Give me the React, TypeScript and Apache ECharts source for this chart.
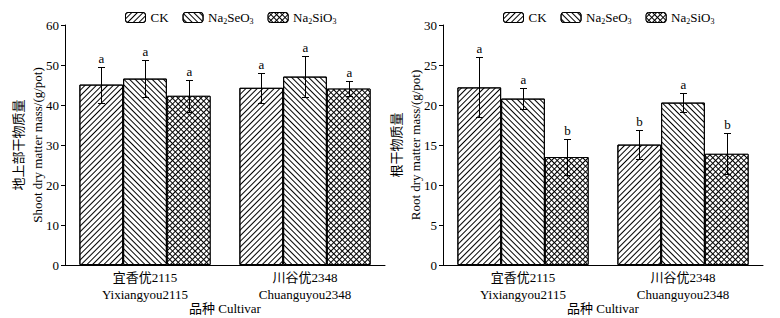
import React, { useEffect, useRef } from "react";
import * as echarts from "echarts";

const categories = ["宜香优2115\nYixiangyou2115", "川谷优2348\nChuanguyou2348"];
const treatments = ["CK", "Na2SeO3", "Na2SiO3"];

// Shoot dry matter mass (g/pot)
const shootCK = [45.1, 44.3];
const shootSe = [46.6, 47.1];
const shootSi = [42.3, 44.1];
const shootCKErr = [4.5, 3.8];
const shootSeErr = [4.7, 5.2];
const shootSiErr = [4.0, 1.8];
const shootLetters = [["a", "a"], ["a", "a"], ["a", "a"]];

// Root dry matter mass (g/pot)
const rootCK = [22.2, 15.05];
const rootSe = [20.8, 20.3];
const rootSi = [13.5, 13.9];
const rootCKErr = [3.75, 1.8];
const rootSeErr = [1.3, 1.15];
const rootSiErr = [2.2, 2.55];
const rootLetters = [["a", "b"], ["a", "a"], ["b", "b"]];

const FONT = "'Liberation Serif', 'Times New Roman', 'Noto Sans CJK SC', serif";

const decals: any[] = [
  { symbol: "rect", symbolSize: 1, color: "#000", dashArrayX: [1, 0], dashArrayY: [1, 3], rotation: -Math.PI / 4 },
  { symbol: "rect", symbolSize: 1, color: "#000", dashArrayX: [1, 0], dashArrayY: [1, 3], rotation: Math.PI / 4 },
  { symbol: "rect", symbolSize: 1, color: "#fff", dashArrayX: [3, 1], dashArrayY: [3, 1], rotation: Math.PI / 4 },
];
const fills = ["#fff", "#fff", "#000"];

function barSeries(name: string, k: number, data: number[], axis: number) {
  return {
    type: "bar",
    name,
    xAxisIndex: axis,
    yAxisIndex: axis,
    data,
    barGap: "0%",
    barCategoryGap: "18%",
    itemStyle: { color: fills[k], borderColor: "#000", borderWidth: 1, decal: decals[k] },
    z: 2,
  };
}

function errSeries(vals: number[][], errs: number[][], letters: string[][], axis: number) {
  const data: number[][] = [];
  for (let k = 0; k < 3; k++) {
    for (let c = 0; c < vals[k].length; c++) {
      data.push([c, vals[k][c], errs[k][c], k]);
    }
  }
  return {
    type: "custom",
    xAxisIndex: axis,
    yAxisIndex: axis,
    z: 5,
    data,
    renderItem: (params: any, api: any) => {
      const ci = api.value(0);
      const v = api.value(1);
      const e = api.value(2);
      const k = api.value(3);
      const band = api.size([1, 0])[0];
      const bw = (band * 0.82) / 3;
      const c = api.coord([ci, v]);
      const x = Math.round(c[0] + (k - 1) * bw) + 0.5;
      const top = Math.round(api.coord([ci, v + e])[1]) + 0.5;
      const bot = Math.round(api.coord([ci, v - e])[1]) + 0.5;
      const half = 3.5;
      const st = { stroke: "#000", lineWidth: 1 };
      return {
        type: "group",
        children: [
          { type: "line", shape: { x1: x, y1: top, x2: x, y2: bot }, style: st },
          { type: "line", shape: { x1: x - half, y1: top, x2: x + half, y2: top }, style: st },
          { type: "line", shape: { x1: x - half, y1: bot, x2: x + half, y2: bot }, style: st },
          {
            type: "text",
            style: {
              text: letters[k][ci],
              x: x,
              y: top - 2,
              align: "center",
              verticalAlign: "bottom",
              fontSize: 13,
              fontFamily: FONT,
              fill: "#000",
            },
          },
        ],
      };
    },
  };
}

const legendRich = {
  n: { fontSize: 13, fontFamily: FONT, color: "#000", lineHeight: 16 },
  s: { fontSize: 8, fontFamily: FONT, color: "#000", lineHeight: 7, verticalAlign: "bottom" },
};
function legendFmt(name: string) {
  if (name === "CK") return "{n|CK}";
  if (name === "Na2SeO3") return "{n|Na}{s|2}{n|SeO}{s|3}";
  return "{n|Na}{s|2}{n|SiO}{s|3}";
}

function makeLegend(left: number) {
  return {
    data: treatments,
    left,
    top: 11,
    padding: 0,
    itemWidth: 20,
    itemHeight: 10,
    itemGap: 14,
    selectedMode: false,
    itemStyle: { borderColor: "#000", borderWidth: 1 },
    formatter: legendFmt,
    textStyle: { rich: legendRich, fontFamily: FONT, fontSize: 13, color: "#000" },
  };
}

function xAxis(grid: number) {
  return {
    type: "category",
    gridIndex: grid,
    data: categories,
    name: "品种 Cultivar",
    nameLocation: "middle",
    nameGap: 37,
    nameMoveOverlap: false,
    nameTextStyle: { fontFamily: FONT, fontSize: 13, color: "#000" },
    axisLine: { lineStyle: { color: "#000", width: 1 } },
    axisTick: { inside: true, length: 5, lineStyle: { color: "#000" } },
    axisLabel: { interval: 0, fontFamily: FONT, fontSize: 13, color: "#000", lineHeight: 17, margin: 4 },
  };
}

function yAxis(grid: number, max: number, interval: number, name: string) {
  return {
    type: "value",
    gridIndex: grid,
    min: 0,
    max,
    interval,
    name,
    nameLocation: "middle",
    nameRotate: 90,
    nameGap: 18,
    nameMoveOverlap: false,
    nameTextStyle: { fontFamily: FONT, fontSize: 13, color: "#000", lineHeight: 19 },
    axisLine: { show: true, lineStyle: { color: "#000", width: 1 } },
    axisTick: { show: true, length: 4, lineStyle: { color: "#000" } },
    axisLabel: { fontFamily: FONT, fontSize: 13, color: "#000", margin: 6 },
    splitLine: { show: false },
  };
}

export default function App() {
  const ref = useRef<HTMLDivElement>(null);
  useEffect(() => {
    if (!ref.current) return;
    const chart = echarts.init(ref.current, undefined, { renderer: "svg" });
    chart.setOption({
      animation: false,
      backgroundColor: "#fff",
      legend: [makeLegend(125), makeLegend(503)],
      grid: [
        { left: 65, top: 25, width: 320, height: 240, containLabel: false, outerBoundsMode: "none" },
        { left: 443, top: 25, width: 320, height: 240, containLabel: false, outerBoundsMode: "none" },
      ],
      xAxis: [xAxis(0), xAxis(1)],
      yAxis: [
        yAxis(0, 60, 10, "地上部干物质量\nShoot dry matter mass/(g/pot)"),
        yAxis(1, 30, 5, "根干物质量\nRoot dry matter mass/(g/pot)"),
      ],
      series: [
        barSeries(treatments[0], 0, shootCK, 0),
        barSeries(treatments[1], 1, shootSe, 0),
        barSeries(treatments[2], 2, shootSi, 0),
        barSeries(treatments[0], 0, rootCK, 1),
        barSeries(treatments[1], 1, rootSe, 1),
        barSeries(treatments[2], 2, rootSi, 1),
        errSeries([shootCK, shootSe, shootSi], [shootCKErr, shootSeErr, shootSiErr], shootLetters, 0),
        errSeries([rootCK, rootSe, rootSi], [rootCKErr, rootSeErr, rootSiErr], rootLetters, 1),
      ],
    });
    return () => chart.dispose();
  }, []);
  return (
    <div
      ref={ref}
      style={{ position: "fixed", left: 0, top: 0, width: 780, height: 318, background: "#fff" }}
    />
  );
}
